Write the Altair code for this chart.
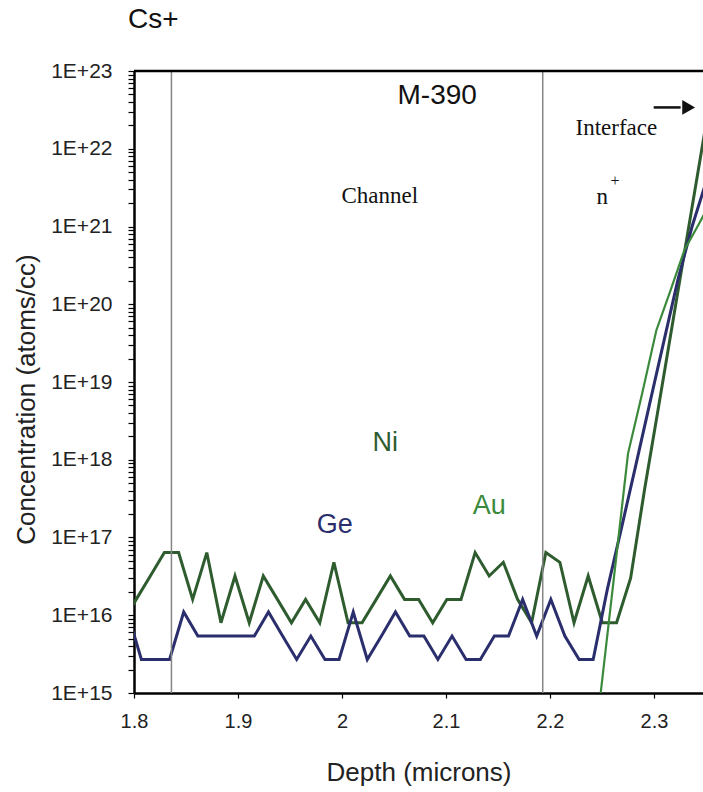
import altair as alt
import pandas as pd

# ---- data ----
ni_depth = [1.7886, 1.8021, 1.8157, 1.8292, 1.8429, 1.8564, 1.8700, 1.8836, 1.8971, 1.9108,
            1.9243, 1.9379, 1.9514, 1.9650, 1.9786, 1.9922, 2.0058, 2.0193, 2.0329, 2.0465,
            2.0601, 2.0737, 2.0872, 2.1008, 2.1144, 2.1280, 2.1415, 2.1551, 2.1688, 2.1823,
            2.1960, 2.2095, 2.2231, 2.2367, 2.2503, 2.2640, 2.2775, 2.2911, 2.3047, 2.3183,
            2.3318, 2.3455, 2.3591]
ni_conc = [8e15, 1.6e16, 3.2e16, 6.4e16, 6.4e16, 1.6e16, 6.4e16, 8e15, 3.2e16, 8e15,
           3.2e16, 1.6e16, 8e15, 1.6e16, 8e15, 4.8e16, 8e15, 8e15, 1.6e16, 3.2e16,
           1.6e16, 1.6e16, 8e15, 1.6e16, 1.6e16, 6.4e16, 3.2e16, 4.8e16, 1.6e16, 8e15,
           6.4e16, 4.8e16, 8e15, 3.2e16, 8e15, 8e15, 3.0e16, 4.3e17, 5.1e18, 6.2e19,
           7.4e20, 9.1e21, 1.1e23]

ge_depth = [1.7936, 1.8071, 1.8207, 1.8342, 1.8478, 1.8614, 1.8750, 1.8886, 1.9021, 1.9157,
            1.9293, 1.9429, 1.9564, 1.9700, 1.9836, 1.9972, 2.0108, 2.0243, 2.0379, 2.0514,
            2.0651, 2.0787, 2.0922, 2.1058, 2.1193, 2.1330, 2.1465, 2.1601, 2.1737, 2.1872,
            2.2008, 2.2143, 2.2280, 2.2415, 2.2551, 2.2688, 2.2823, 2.2959, 2.3094, 2.3231,
            2.3366, 2.3502]
ge_conc = [1.1e16, 2.7e15, 2.7e15, 2.7e15, 1.1e16, 5.4e15, 5.4e15, 5.4e15, 5.4e15, 5.4e15,
           1.1e16, 5.4e15, 2.7e15, 5.4e15, 2.7e15, 2.7e15, 1.1e16, 2.7e15, 5.4e15, 1.1e16,
           5.4e15, 5.4e15, 2.7e15, 5.4e15, 2.7e15, 2.7e15, 5.4e15, 5.4e15, 1.6e16, 5.4e15,
           1.6e16, 5.4e15, 2.7e15, 2.7e15, 2.15e16, 1.34e17, 8.3e17, 5.3e18, 3.3e19, 2.1e20,
           1.0e21, 3.8e21]

au_depth = [2.2479, 2.2614, 2.2750, 2.2887, 2.3022, 2.3158, 2.3293, 2.3430, 2.3565]
au_conc = [8e14, 3.0e16, 1.2e18, 7.2e18, 4.6e19, 1.5e20, 5.0e20, 1.07e21, 2.3e21]

species = ["Ni", "Au", "Ge"]
species_colors = ["#2e5c2f", "#3b8a3b", "#2b2e6c"]

# species label positions
label_depth = [2.0415, 2.1417, 1.993]
label_conc = [1.64e18, 2.54e17, 1.45e17]

# region boundaries
boundary_depth = [1.836, 2.193]

# text annotations
serif_text = ["Channel", "Interface", "n"]
serif_depth = [2.0363, 2.2638, 2.2502]
serif_conc = [2.45e21, 1.84e22, 2.4e21]
sup_text = ["+"]
sup_depth = [2.2625]
sup_conc = [3.9e21]
sample_text = ["M-390"]
sample_depth = [2.0915]
sample_conc = [4.7e22]
arrow_start = [2.2997]
arrow_end = [2.3256]
arrow_head = [2.3333]
arrow_conc = [3.4e22]
border_conc = [1e23]

x_ticks = [1.8, 1.9, 2.0, 2.1, 2.2, 2.3]
y_ticks = [m * 10.0 ** e for e in range(15, 23) for m in range(1, 10)] + [1e23]

# ---- tables ----
profiles = pd.concat([
    pd.DataFrame({"depth": ni_depth, "conc": ni_conc, "species": "Ni"}),
    pd.DataFrame({"depth": ge_depth, "conc": ge_conc, "species": "Ge"}),
    pd.DataFrame({"depth": au_depth, "conc": au_conc, "species": "Au"}),
], ignore_index=True)
labels_df = pd.DataFrame({"depth": label_depth, "conc": label_conc, "species": species})
bounds_df = pd.DataFrame({"depth": boundary_depth})
border_df = pd.DataFrame({"conc": border_conc})
serif_df = pd.DataFrame({"depth": serif_depth, "conc": serif_conc, "text": serif_text})
sup_df = pd.DataFrame({"depth": sup_depth, "conc": sup_conc, "text": sup_text})
sample_df = pd.DataFrame({"depth": sample_depth, "conc": sample_conc, "text": sample_text})
arrow_df = pd.DataFrame({"depth": arrow_start, "depth2": arrow_end, "head": arrow_head,
                         "conc": arrow_conc})

FONT = "Liberation Sans"
SERIF = "Liberation Serif"

xscale = alt.Scale(domain=[1.8, 2.3471], nice=False, zero=False)
yscale = alt.Scale(type="log", domain=[1e15, 1e23], nice=False)
color_scale = alt.Scale(domain=species, range=species_colors)

x_axis = alt.Axis(
    values=x_ticks, format="~g", title="Depth (microns)", grid=False,
    labelFlush=False, labelBound=False, tickSize=5, labelPadding=13,
    titleY=79, titleBaseline="middle",
)
y_axis = alt.Axis(
    values=y_ticks, grid=False, title="Concentration (atoms/cc)",
    labelExpr="abs(log(datum.value)/LN10 - round(log(datum.value)/LN10)) < 0.01 ? '1E+' + round(log(datum.value)/LN10) : ''",
    labelOverlap=False, labelFlush=False, labelBound=False, tickSize=6, labelPadding=16,
    labelFontSize=21,
    titleX=-108, titleY=328, titleAngle=270, titleAlign="center", titleBaseline="middle",
)


def X(field):
    return alt.X(field, type="quantitative", scale=xscale, axis=x_axis)


def Y(field):
    return alt.Y(field, type="quantitative", scale=yscale, axis=y_axis)


base_lines = alt.Chart(profiles).encode(
    x=X("depth"),
    y=Y("conc"),
    color=alt.Color("species:N", scale=color_scale, legend=None),
    detail="species:N",
)
thick_lines = base_lines.transform_filter(
    alt.datum.species != "Au"
).mark_line(clip=True, strokeWidth=3, strokeJoin="miter")
au_line = base_lines.transform_filter(
    alt.datum.species == "Au"
).mark_line(clip=True, strokeWidth=2.2, strokeJoin="miter")

bounds = alt.Chart(bounds_df).mark_rule(color="#858585", strokeWidth=1.5).encode(
    x=X("depth")
)

top_border = alt.Chart(border_df).mark_rule(color="black", strokeWidth=2.5).encode(
    y=Y("conc")
)

species_labels = alt.Chart(labels_df).mark_text(
    font=FONT, fontSize=27, align="center", baseline="middle"
).encode(
    x=X("depth"),
    y=Y("conc"),
    text="species:N",
    color=alt.Color("species:N", scale=color_scale, legend=None),
)

serif_labels = alt.Chart(serif_df).mark_text(
    font=SERIF, fontSize=23, align="center", baseline="middle", color="#111111"
).encode(x=X("depth"), y=Y("conc"), text="text:N")

sup_labels = alt.Chart(sup_df).mark_text(
    font=SERIF, fontSize=16, align="center", baseline="middle", color="#111111"
).encode(x=X("depth"), y=Y("conc"), text="text:N")

sample_label = alt.Chart(sample_df).mark_text(
    font=FONT, fontSize=28, align="center", baseline="middle", color="#111111"
).encode(x=X("depth"), y=Y("conc"), text="text:N")

arrow_line = alt.Chart(arrow_df).mark_rule(color="#111111", strokeWidth=2.5).encode(
    x=X("depth"), x2="depth2:Q", y=Y("conc")
)
arrow_tip = alt.Chart(arrow_df).mark_point(
    shape="triangle-right", filled=True, color="#111111", size=220, opacity=1
).encode(x=X("head"), y=Y("conc"))

chart = alt.layer(
    thick_lines, au_line, bounds, top_border, species_labels, serif_labels, sup_labels,
    sample_label, arrow_line, arrow_tip
).properties(
    width=569,
    height=622,
    autosize=alt.AutoSizeParams(type="none"),
    padding={"left": 134, "top": 71, "right": 0, "bottom": 95},
    title=alt.TitleParams("Cs+", anchor="start", frame="group", font=FONT, fontSize=28,
                          fontWeight="normal", color="#111111", offset=26, dx=-6),
).configure_view(
    stroke=None
).configure_axis(
    domainColor="black", domainWidth=2.5, tickColor="black", tickWidth=1.2,
    labelFont=FONT, labelFontSize=20, labelColor="#222222",
    titleFont=FONT, titleFontSize=26, titleFontWeight="normal", titleColor="#222222",
)

chart.save("out.html", embed_options={"renderer": "svg", "actions": False})
